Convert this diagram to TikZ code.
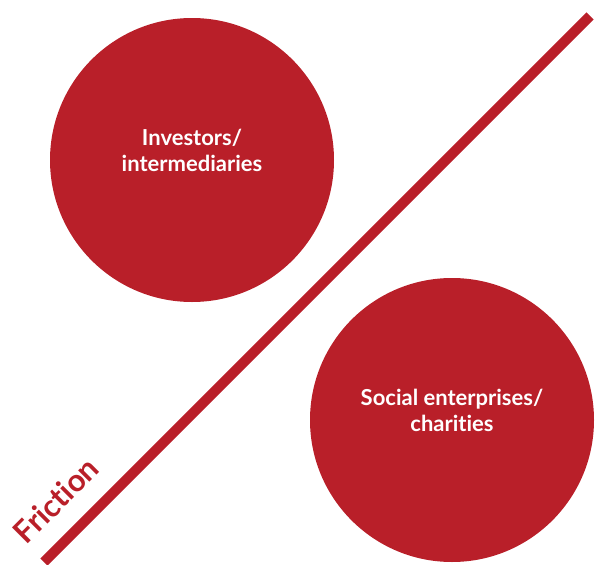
\documentclass[tikz,border=0pt]{standalone}
\usepackage{fontspec}
\setmainfont{Lato}[Ligatures=NoCommon]
\definecolor{fricred}{HTML}{B91F29}
\begin{document}
\begin{tikzpicture}[x=1pt,y=-1pt,
  bubble/.style={circle,fill=fricred,minimum size=284pt,inner sep=0pt},
  btext/.style={text=white,font=\bfseries\fontsize{22}{26}\selectfont,align=center},
  lbl/.style={text=fricred,font=\bfseries\fontsize{31}{34}\selectfont,rotate=45}]
\useasboundingbox (0,0) rectangle (595,565);
\coordinate (ltop) at (590,16);
\coordinate (lbot) at (44,562);
\draw[fricred,line width=10pt] (lbot) -- (ltop);
\node[bubble] (inv) at (192,160) {};
\node[btext] (invt) at (192,150) {Investors/\\intermediaries};
\node[bubble] (soc) at (452,420) {};
\node[btext] (soct) at (452,410) {Social enterprises/\\charities};
\node[lbl] (fr) at (56,500) {Friction};
\end{tikzpicture}
\end{document}
